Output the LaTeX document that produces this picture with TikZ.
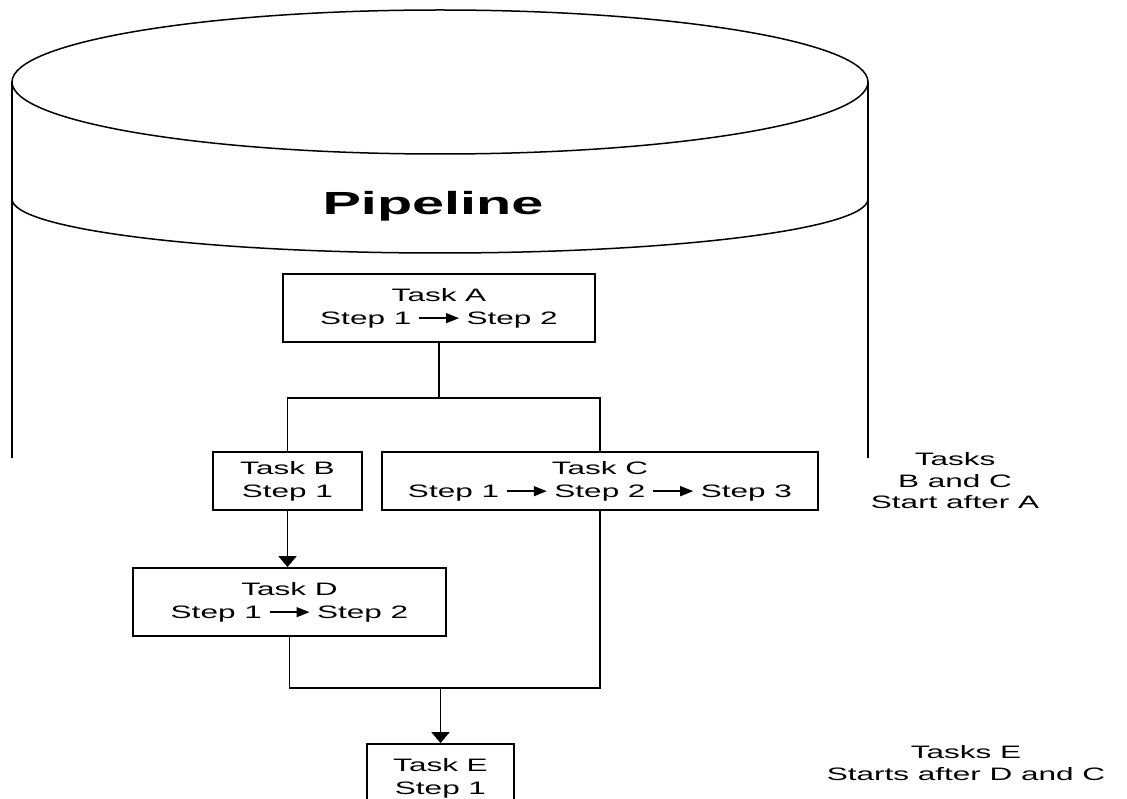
\documentclass[tikz,border=0pt]{standalone}
\usepackage{fontspec}
\usetikzlibrary{arrows.meta}
\setmainfont{Liberation Sans}
\newfontfamily\taskfont[FakeStretch=1.75]{Liberation Sans}
\newfontfamily\titlefont[FakeStretch=1.8]{Liberation Sans}

\tikzstyle{taskbox}=[draw,
                     line width=1.8pt,
                     align=center,
                     inner sep=0pt,
                     font=\taskfont\fontsize{18}{23}\selectfont]
\tikzstyle{note}=[align=center,
                  font=\taskfont\fontsize{18}{21.5}\selectfont]
\tikzstyle{drum}=[line width=1.5pt]
\tikzstyle{link}=[line width=1.8pt]
\tikzstyle{flow}=[link, -{Triangle[length=11pt,width=18pt]}]

\newcommand{\stepto}{\hspace{7pt}\tikz[baseline=-6pt]\draw[line width=1.4pt,-{Triangle[length=13pt,width=10pt]}] (0pt,0pt) -- (40pt,0pt);\hspace{7pt}}

\begin{document}
\begin{tikzpicture}[x=1pt,y=-1pt]
    \useasboundingbox (0,0) rectangle (1127,799);
    \draw[drum] (440,82) ellipse [x radius=428, y radius=72];
    \draw[drum] (12,82) -- (12,458);
    \draw[drum] (868,82) -- (868,458);
    \draw[drum] (12,199) arc [start angle=180, end angle=0, x radius=428, y radius=54];
    \node[font=\titlefont\bfseries\fontsize{32}{32}\selectfont, anchor=base] (title) at (433,215) {Pipeline};

    \node[taskbox, minimum width=312pt, minimum height=68pt] (A) at (439,308) {Task A\\Step 1\stepto Step 2};
    \node[taskbox, minimum width=149pt, minimum height=58pt] (B) at (287.5,481) {Task B\\Step 1};
    \node[taskbox, minimum width=436pt, minimum height=58pt] (C) at (600,481) {Task C\\Step 1\stepto Step 2\stepto Step 3};
    \node[taskbox, minimum width=313pt, minimum height=68pt] (D) at (289.5,602) {Task D\\Step 1\stepto Step 2};
    \node[taskbox, minimum width=147pt, minimum height=68pt] (E) at (440.5,778) {Task E\\Step 1};

    \coordinate (fork) at (439,398);
    \coordinate (join) at (440.5,688);
    \draw[link] (A.south) -- (fork);
    \draw[link] (B.north) |- (fork) -| (C.north);
    \draw[flow] (B.south) -- (B.south |- D.north);
    \draw[link] (D.south) |- (join) -| (C.south);
    \draw[flow] (join) -- (E.north);

    \node[note] (startBC) at (955,481) {Tasks\\B and C\\Start after A};
    \node[note] (startE) at (966,763) {Tasks E\\Starts after D and C};
\end{tikzpicture}
\end{document}
